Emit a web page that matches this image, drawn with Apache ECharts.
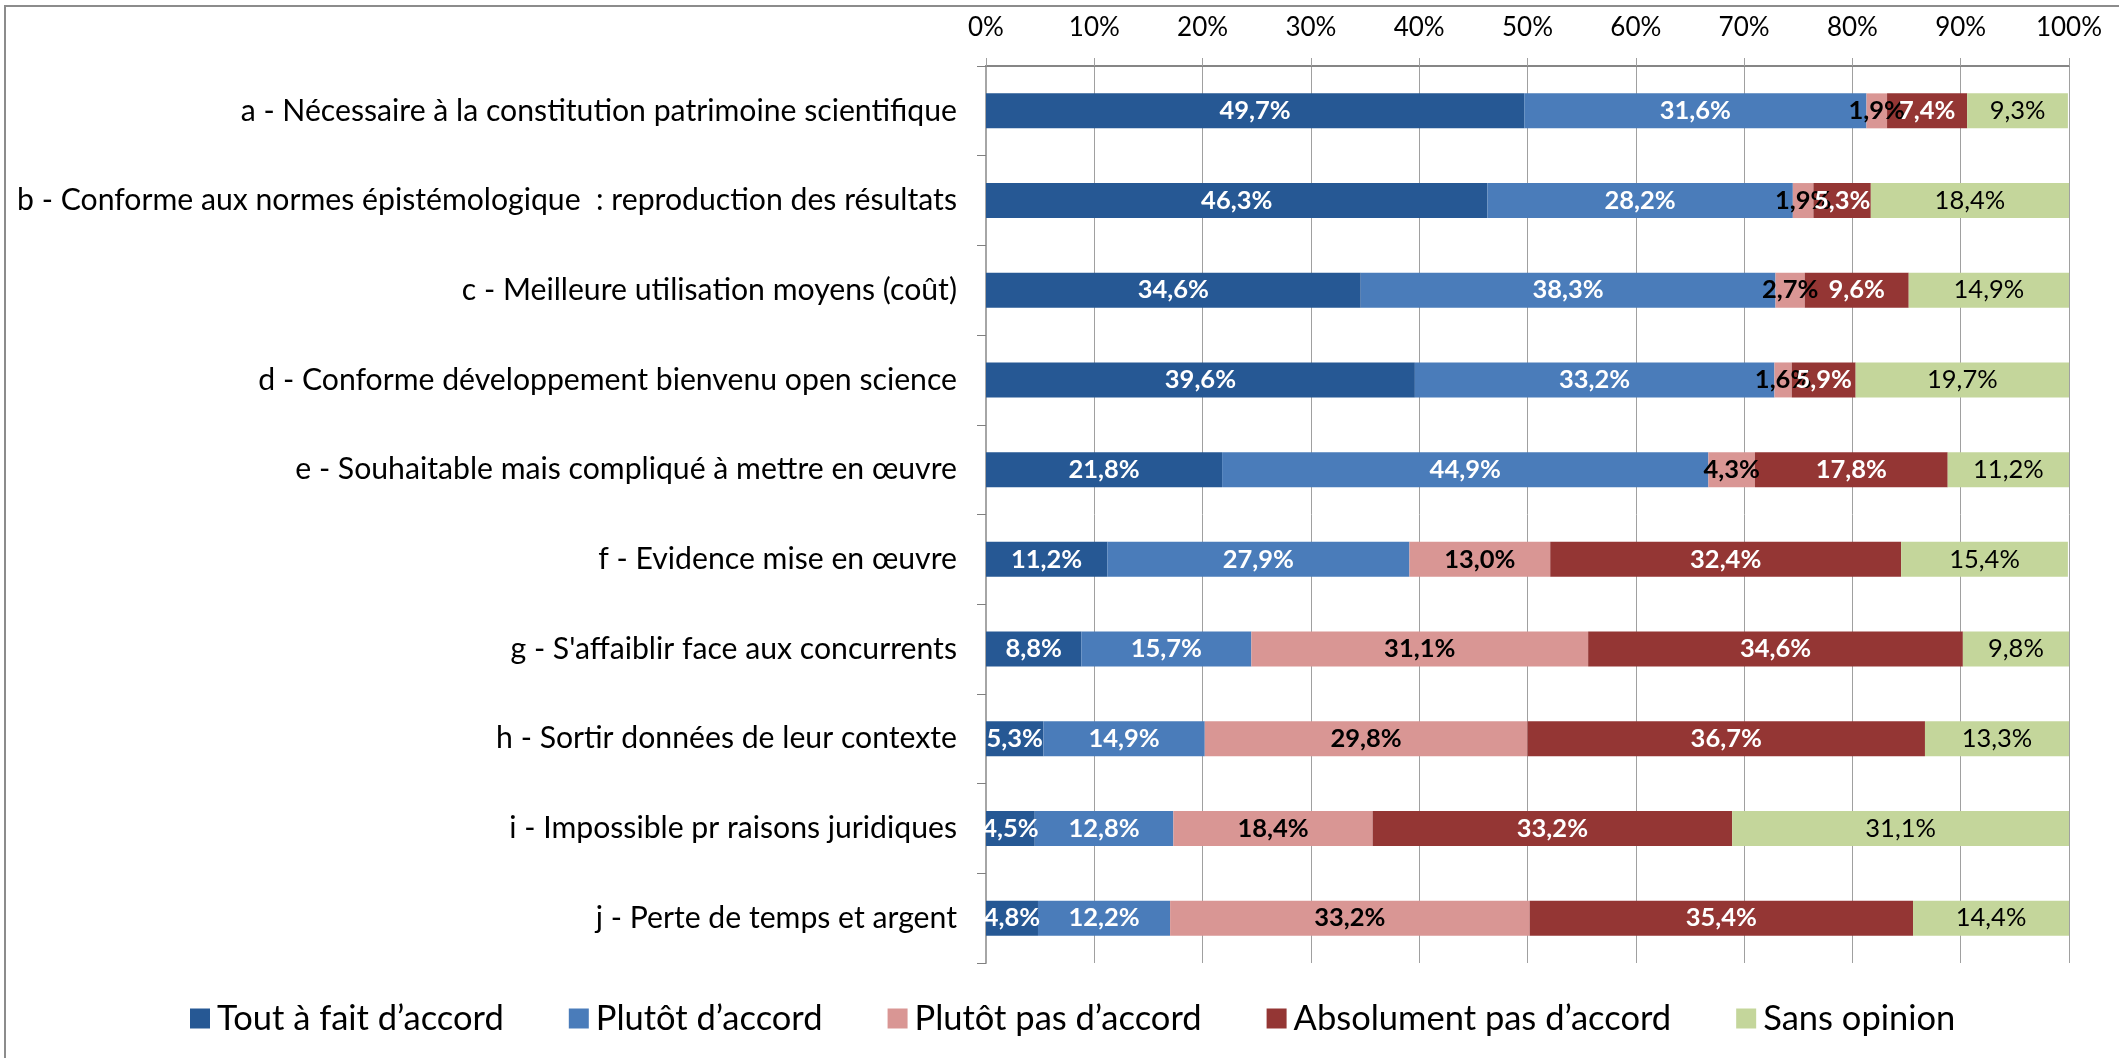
<!DOCTYPE html>
<html>
<head>
<meta charset="utf-8">
<script src="https://cdn.jsdelivr.net/npm/echarts@6/dist/echarts.min.js"></script>
<style>
  html, body { margin: 0; padding: 0; background: #ffffff; }
  #chart { width: 2119px; height: 1058px; }
</style>
</head>
<body>
<div id="chart"></div>
<script>
// Survey answers, one row per statement (a → j), percentages per answer
const categories = [
  "a - Nécessaire à la constitution patrimoine scientifique",
  "b - Conforme aux normes épistémologique  : reproduction des résultats",
  "c - Meilleure utilisation moyens (coût)",
  "d - Conforme développement bienvenu open science",
  "e - Souhaitable mais compliqué à mettre en œuvre",
  "f - Evidence mise en œuvre",
  "g - S'affaiblir face aux concurrents",
  "h - Sortir données de leur contexte",
  "i - Impossible pr raisons juridiques",
  "j - Perte de temps et argent"
];
const seriesNames = [
  "Tout à fait d’accord",
  "Plutôt d’accord",
  "Plutôt pas d’accord",
  "Absolument pas d’accord",
  "Sans opinion"
];
const toutAFait     = [49.7, 46.3, 34.6, 39.6, 21.8, 11.2, 8.8, 5.3, 4.5, 4.8];
const plutotDaccord = [31.6, 28.2, 38.3, 33.2, 44.9, 27.9, 15.7, 14.9, 12.8, 12.2];
const plutotPas     = [1.9, 1.9, 2.7, 1.6, 4.3, 13.0, 31.1, 29.8, 18.4, 33.2];
const absolument    = [7.4, 5.3, 9.6, 5.9, 17.8, 32.4, 34.6, 36.7, 33.2, 35.4];
const sansOpinion   = [9.3, 18.4, 14.9, 19.7, 11.2, 15.4, 9.8, 13.3, 31.1, 14.4];
const tickValues    = [0, 10, 20, 30, 40, 50, 60, 70, 80, 90, 100];

const FONT = "Lato, 'Open Sans', sans-serif";
const colors = ["#265894", "#4a7cba", "#d99694", "#943634", "#c4d69b"];
const labelStyles = [
  { color: "#ffffff", fontWeight: "bold" },
  { color: "#ffffff", fontWeight: "bold" },
  { color: "#000000", fontWeight: "bold" },
  { color: "#ffffff", fontWeight: "bold" },
  { color: "#000000", fontWeight: "normal" }
];
const values = [toutAFait, plutotDaccord, plutotPas, absolument, sansOpinion];

const fmtPct = v => v.toFixed(1).replace(".", ",") + "%";

const chart = echarts.init(document.getElementById("chart"), null, { renderer: "canvas" });

chart.setOption({
  animation: false,
  backgroundColor: "#ffffff",
  color: colors,
  textStyle: { fontFamily: FONT },
  graphic: [{
    type: "rect",
    shape: { x: 5, y: 6, width: 2300, height: 1200 },
    style: { fill: "none", stroke: "#8c8c8c", lineWidth: 2 },
    silent: true
  }],
  grid: { left: 986, right: 50, top: 66, bottom: 95, containLabel: false },
  legend: {
    data: seriesNames,
    left: 190,
    top: 1001,
    padding: 0,
    itemWidth: 20,
    itemHeight: 20,
    itemGap: 65,
    icon: "rect",
    textStyle: { fontFamily: FONT, fontSize: 34.5, color: "#000000", padding: [0, 0, 0, 2] }
  },
  xAxis: {
    type: "value",
    position: "top",
    min: tickValues[0],
    max: tickValues[tickValues.length - 1],
    interval: tickValues[1] - tickValues[0],
    axisLine: { show: true, lineStyle: { color: "#868686", width: 2 } },
    axisTick: { show: true, length: 8, lineStyle: { color: "#a0a0a0", width: 1 } },
    splitLine: { show: true, lineStyle: { color: "#a0a0a0", width: 1 } },
    axisLabel: {
      margin: 25,
      fontFamily: FONT,
      fontSize: 26,
      color: "#000000",
      formatter: v => v + "%"
    }
  },
  yAxis: {
    type: "category",
    inverse: true,
    data: categories,
    axisLine: { show: true, lineStyle: { color: "#a6a6a6", width: 2 } },
    axisTick: { show: true, length: 9, lineStyle: { color: "#808080", width: 1 } },
    axisLabel: {
      margin: 29,
      fontFamily: FONT,
      fontSize: 30.2,
      color: "#000000"
    }
  },
  series: seriesNames.map((name, i) => ({
    name: name,
    type: "bar",
    stack: "total",
    barWidth: "39%",
    data: values[i],
    label: {
      show: true,
      position: "inside",
      fontFamily: FONT,
      fontSize: 25.5,
      color: labelStyles[i].color,
      fontWeight: labelStyles[i].fontWeight,
      formatter: p => fmtPct(p.value)
    },
    itemStyle: { color: colors[i] }
  }))
});
</script>
</body>
</html>
